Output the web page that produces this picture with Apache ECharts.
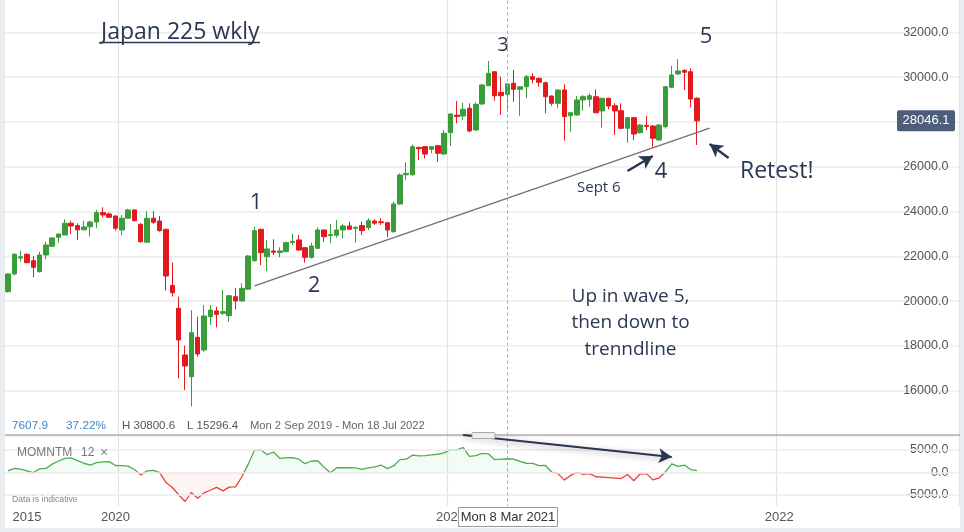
<!DOCTYPE html>
<html><head><meta charset="utf-8">
<script src="https://cdn.jsdelivr.net/npm/echarts@6/dist/echarts.min.js"></script>
<style>html,body{margin:0;padding:0;background:#fff}#c{width:964px;height:532px}</style>
</head><body><div id="c"></div><script>
// weekly categories: Mon 2 Sep 2019 .. Mon 18 Jul 2022
const startDate = Date.UTC(2019, 8, 2);
const weekCount = 151;
const categories = [];
for (let i = 0; i < weekCount; i++) {
  categories.push(new Date(startDate + i * 7 * 86400000).toISOString().slice(0, 10));
}
const xTickLabels = {'2019-09-23': '2015', '2019-12-30': '2020', '2021-01-04': '2021', '2022-01-03': '2022'};
const yearStarts = ['2020-01-06', '2021-01-04', '2022-01-03'];
const crosshairWeek = '2021-03-08';

const open = [20420,21210,21920,22090,21805,21315,22060,22450,22850,22950,
  23475,23370,23180,23320,23530,23950,23890,23800,23175,23700,
  24070,23430,22630,23700,23575,23205,20700,19680,17595,16625,
  18385,17818,19305,19560,19455,19350,20195,20005,20530,21805,
  23205,21985,22240,22165,22210,22620,22730,22385,21955,22355,
  23175,22930,22940,23175,23355,23250,23370,23280,23575,23540,
  23500,23100,24335,25640,25640,26860,26895,26780,26940,26565,
  27520,28300,28265,28610,27640,28800,29615,30240,29320,29230,
  29725,29455,29570,30020,29945,29750,29155,28830,29425,28275,
  28310,28980,29010,29125,28490,29055,28725,28500,27715,28190,
  27520,27840,27815,27190,27785,29545,30140,30305,30240,29055];
const close = [21210,22090,21980,21715,21510,22060,22505,22820,22995,23475,
  23355,23180,23310,23530,23950,23845,23740,23250,23700,24070,
  23590,22650,23700,23520,23145,21120,20375,18265,17105,18590,
  17640,19335,19600,19410,19530,20240,20005,20570,22015,23145,
  22160,22330,22180,22240,22610,22660,22280,21955,22460,23175,
  22875,22970,23175,23355,23205,23290,23145,23590,23475,23500,
  23175,24335,25630,25700,26895,26800,26565,26895,26600,27490,
  28355,28240,28565,27595,28785,29650,30170,29170,29170,29690,
  29455,29570,30020,29900,29770,29125,28830,29425,28235,28410,
  28980,29125,29170,28410,29055,28710,28490,27715,28190,27460,
  27860,27800,27270,27860,29570,30095,30275,30215,29020,28046.1];
const low = [20380,21150,21760,21690,21065,21270,21870,22420,22610,22940,
  23000,22730,23170,22880,23260,23740,23720,23145,22950,23680,
  23550,22610,22600,23450,23100,20465,20200,16555,16030,15296.4,
  17520,17740,18935,18825,19380,19080,19635,19990,20500,21760,
  21610,21345,22060,21955,22180,22505,22250,21715,21900,22330,
  22650,22580,22830,22805,23175,22610,22950,23175,23400,23400,
  22850,23060,24300,25410,25600,26300,26375,26600,26225,26540,
  26925,27940,28085,27535,27600,28750,29600,28950,28310,28455,
  28900,28265,29055,29725,29570,28385,28720,28610,27160,27560,
  28280,28500,28680,28380,27740,28560,27415,27690,27070,27190,
  27480,27640,26850,27150,27700,29500,30100,29425,28650,26970];
const high = [21250,22130,22240,22130,22010,22200,22650,22850,23010,23650,
  23590,23475,23590,23590,24070,24190,23960,23820,23845,24120,
  24090,23475,24020,24020,23800,23220,21715,20200,18010,19600,
  19305,19825,19825,19750,20495,20260,20570,20795,22060,23320,
  23230,22730,22760,22400,22650,23000,22950,22400,22610,23295,
  23200,23445,23620,23445,23545,23355,23545,23700,23650,23700,
  23520,24440,25700,26200,26985,26900,26920,26920,26970,27640,
  28380,28935,28860,28830,28870,29700,30720,30260,30020,29725,
  30320,29600,30095,30170,29980,29800,29180,29440,29680,28440,
  29155,29200,29275,29455,29080,29080,28830,28830,28220,28220,
  27900,28265,27860,27900,29600,30495,30800.6,30340,30390,29100];
const momentum = [300,850,700,300,-100,750,850,1800,2500,3100,
  3200,2600,2000,1600,2150,2300,2350,1500,1450,1350,
  600,-600,300,400,-100,-2300,-3400,-5000,-6500,-4500,
  -5800,-4600,-4000,-3350,-4150,-3300,-3250,-1000,1800,4900,
  5000,3900,4500,3100,3200,3250,2900,1900,2500,2550,
  1100,-100,1000,1050,1000,950,650,950,1200,1600,
  800,1400,2800,2900,3800,3650,3700,3850,4000,4300,
  5000,4950,5500,3550,3700,4200,4100,2800,2900,3000,
  2900,2400,2000,1950,1450,1550,50,-300,-1750,-700,
  -50,-450,-300,-1000,-1100,-1200,-1300,-1400,-500,-1900,
  -400,-300,-1700,-1300,100,1850,1300,1600,600,350];
const momentumTicks = [5000, 0, -5000];

// annotation lines in data coordinates [week index, value]
const trendLine = [[39, 20681], [111, 27722]];
const arrowWave4 = [[98, 25808], [102, 26478]];
const arrowRetest = [[114, 26389], [111, 27014]];
const arrowMomentum = [[72, 8277], [105, 3389]];

const candles = open.map((o, i) => [o, close[i], low[i], high[i]]);
const navy = '#2a3650';
const textNavy = '#2b3853';
const annFont = '"Open Sans", sans-serif';
const axFont = '"Liberation Sans", Arial, sans-serif';

function pairLine(pts, style, arrow) {
  return [
    {coord: [categories[pts[0][0]], pts[0][1]], symbol: 'none', lineStyle: style},
    {coord: [categories[pts[1][0]], pts[1][1]], symbol: arrow ? 'arrow' : 'none', symbolSize: [11, 13]}
  ];
}

const chart = echarts.init(document.getElementById('c'), null, {renderer: 'canvas'});
const gridLeft = 4.84, gridRight = 4.66;
chart.setOption({
  animation: false,
  backgroundColor: '#ffffff',
  grid: [
    {left: gridLeft, right: gridRight, top: -12.5, height: 448, outerBoundsMode: 'none', containLabel: false},
    {left: gridLeft, right: gridRight, top: 427.25, height: 78.75, outerBoundsMode: 'none', containLabel: false}
  ],
  xAxis: [
    {type: 'category', gridIndex: 0, data: categories, boundaryGap: true,
     axisLine: {show: false}, axisTick: {show: false}, axisLabel: {show: false},
     splitLine: {show: true, interval: (i, v) => yearStarts.includes(v), lineStyle: {color: '#e3e3e3', width: 1.2}}},
    {type: 'category', gridIndex: 1, data: categories, boundaryGap: true,
     axisLine: {show: false}, axisTick: {show: false},
     axisLabel: {show: true, interval: (i, v) => v in xTickLabels, formatter: v => xTickLabels[v] || '',
       color: '#555', fontSize: 13, fontFamily: axFont, margin: 5},
     splitLine: {show: true, interval: (i, v) => yearStarts.includes(v), lineStyle: {color: '#e3e3e3', width: 1.2}}}
  ],
  yAxis: [
    {type: 'value', gridIndex: 0, position: 'right', min: 14000, max: 34000, interval: 2000,
     axisLine: {show: false}, axisTick: {show: false},
     axisLabel: {inside: true, margin: 11, color: '#555', fontSize: 12.5, fontFamily: axFont,
       showMinLabel: false, formatter: v => v.toFixed(1)},
     splitLine: {show: true, lineStyle: {color: '#ececec', width: 1.5}}},
    {type: 'value', gridIndex: 1, position: 'right', min: -7500, max: 10000, interval: 2500,
     axisLine: {show: false}, axisTick: {show: false},
     axisLabel: {inside: true, margin: 11, color: '#555', fontSize: 12.5, fontFamily: axFont,
       formatter: v => (momentumTicks.includes(v) ? v.toFixed(1) : '')},
     splitLine: {show: false}}
  ],
  series: [
    {type: 'candlestick', xAxisIndex: 0, yAxisIndex: 0, data: candles, barWidth: 5,
     itemStyle: {color: '#3a9d3a', color0: '#e3191e', borderColor: '#3a9d3a', borderColor0: '#e3191e', borderWidth: 1},
     markLine: {silent: true, symbol: ['none', 'none'], label: {show: false}, animation: false,
       data: [
         {xAxis: crosshairWeek, lineStyle: {type: [3, 3], color: '#a8a8a8', width: 1}},
         pairLine(trendLine, {color: '#737373', width: 1.5, type: 'solid'}, false),
         pairLine(arrowWave4, {color: navy, width: 2.5, type: 'solid'}, true),
         pairLine(arrowRetest, {color: navy, width: 2.5, type: 'solid'}, true)
       ]}},
    {type: 'line', xAxisIndex: 1, yAxisIndex: 1, data: momentum, symbol: 'none', z: 3,
     lineStyle: {width: 1.3, color: '#4cae4c'}, areaStyle: {color: 'rgba(76,174,76,0.08)'},
     markLine: {silent: true, symbol: ['none', 'none'], label: {show: false}, animation: false,
       data: [
         {yAxis: 5000, lineStyle: {color: '#ebebeb', width: 1.5, type: 'solid'}},
         {yAxis: 0, lineStyle: {color: '#ebebeb', width: 1.5, type: 'solid'}},
         {yAxis: -5000, lineStyle: {color: '#ebebeb', width: 1.5, type: 'solid'}},
         [{coord: [crosshairWeek, 7500], lineStyle: {type: [3, 3], color: '#a8a8a8', width: 1}}, {coord: [crosshairWeek, -7500]}],
         pairLine(arrowMomentum, {color: navy, width: 2, type: 'solid', shadowBlur: 6, shadowColor: 'rgba(0,0,0,0.35)', shadowOffsetY: 2}, true)
       ]}}
  ]
});

// colour the momentum line green above zero and red below, split at the zero level of its axis
const zeroY = chart.convertToPixel({yAxisIndex: 1}, 0);
const H = 532, zf = zeroY / H;
chart.setOption({series: [{}, {
  lineStyle: {color: new echarts.graphic.LinearGradient(0, 0, 0, H, [
    {offset: 0, color: '#4cae4c'}, {offset: zf, color: '#4cae4c'}, {offset: zf, color: '#e8403c'}, {offset: 1, color: '#e8403c'}], true)},
  areaStyle: {color: new echarts.graphic.LinearGradient(0, 0, 0, H, [
    {offset: 0, color: 'rgba(76,174,76,0.09)'}, {offset: zf, color: 'rgba(76,174,76,0.09)'},
    {offset: zf, color: 'rgba(232,64,60,0.08)'}, {offset: 1, color: 'rgba(232,64,60,0.08)'}], true)}
}]});

const tagY = chart.convertToPixel({yAxisIndex: 0}, close[close.length - 1]);
const txt = (x, y, text, size, color, opts) => ({
  type: 'text', x: x, y: y, silent: true, z: 50,
  style: Object.assign({text: text, fontSize: size, fill: color, fontFamily: annFont, verticalAlign: 'middle', align: 'left'}, opts || {})
});
const infoY = 425.5;
chart.setOption({graphic: [
  {type: 'rect', shape: {x: 0, y: 0, width: 5, height: 532}, style: {fill: '#e8edf1'}, silent: true},
  {type: 'rect', shape: {x: 960, y: 0, width: 4, height: 532}, style: {fill: '#e8edf1'}, silent: true},
  {type: 'rect', shape: {x: 0, y: 528, width: 964, height: 4}, style: {fill: '#e8edf1'}, silent: true},
  {type: 'line', shape: {x1: 5, y1: 435, x2: 960, y2: 435}, style: {stroke: '#8d8d8d', lineWidth: 1}, silent: true},
  {type: 'rect', shape: {x: 472, y: 432.5, width: 23, height: 6, r: 1}, style: {fill: '#eeeeee', stroke: '#aaaaaa', lineWidth: 1}, silent: true, z: 40},
  txt(101, 32.5, 'Japan 225 wkly', 23, textNavy),
  {type: 'line', shape: {x1: 101, y1: 42.5, x2: 260, y2: 42.5}, style: {stroke: textNavy, lineWidth: 1.4}, silent: true},
  txt(256, 203, '1', 22, textNavy, {align: 'center'}),
  txt(314, 285.5, '2', 22, textNavy, {align: 'center'}),
  txt(503, 45.5, '3', 20, textNavy, {align: 'center'}),
  txt(661, 172, '4', 22, textNavy, {align: 'center'}),
  txt(706, 37, '5', 22, textNavy, {align: 'center'}),
  txt(740, 171, 'Retest!', 23, textNavy),
  txt(577, 188, 'Sept 6', 15, textNavy),
  txt(630.5, 297, 'Up in wave 5,', 19, textNavy, {align: 'center'}),
  txt(630.5, 323, 'then down to', 19, textNavy, {align: 'center'}),
  txt(630.5, 349.5, 'trenndline', 19, textNavy, {align: 'center'}),
  {type: 'rect', shape: {x: 897, y: tagY - 10.5, width: 58, height: 21, r: 2}, style: {fill: '#4d5d7a'}, silent: true, z: 45},
  txt(926, tagY, close[close.length - 1].toFixed(1), 13, '#ffffff', {align: 'center', fontFamily: axFont}),
  txt(12, infoY, '7607.9', 11.8, '#3f86c8', {fontFamily: axFont}),
  txt(66, infoY, '37.22%', 11.8, '#3f86c8', {fontFamily: axFont}),
  txt(122, infoY, 'H 30800.6', 11.5, '#555', {fontFamily: axFont}),
  txt(187, infoY, 'L 15296.4', 11.5, '#555', {fontFamily: axFont}),
  txt(250, infoY, 'Mon 2 Sep 2019 - Mon 18 Jul 2022', 11.2, '#666', {fontFamily: axFont}),
  txt(17, 453, 'MOMNTM', 12, '#777', {fontFamily: axFont}),
  txt(81, 453, '12', 12, '#777', {fontFamily: axFont}),
  txt(100, 453, '\u00d7', 14, '#888', {fontFamily: axFont}),
  txt(12, 500, 'Data is indicative', 8.7, '#888', {fontFamily: axFont}),
  {type: 'rect', shape: {x: 458.5, y: 507.5, width: 99, height: 19}, style: {fill: '#ffffff', stroke: '#999999', lineWidth: 1}, silent: true, z: 100},
  {type: 'text', x: 508, y: 517.5, silent: true, z: 101,
   style: {text: 'Mon 8 Mar 2021', fontSize: 13, fill: '#333', fontFamily: axFont, align: 'center', verticalAlign: 'middle'}}
]});
</script></body></html>
